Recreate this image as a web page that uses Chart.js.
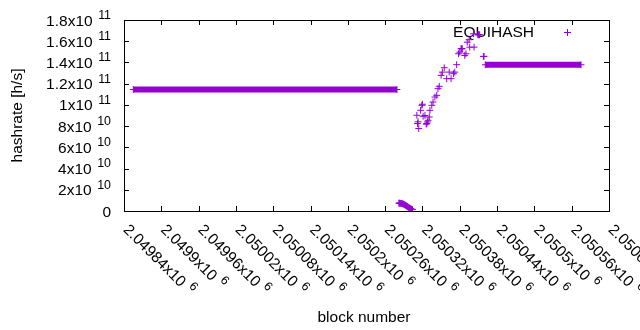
<!DOCTYPE html>
<html>
<head>
<meta charset="utf-8">
<script src="https://cdn.jsdelivr.net/npm/chart.js@4.4.0/dist/chart.umd.min.js"></script>
<style>
    html, body { margin: 0; padding: 0; background: #fff; }
    #wrap { width: 640px; height: 330px; }
</style>
</head>
<body>
<div id="wrap"><canvas id="hashrate-chart"></canvas></div>
<script>
// Tick positions and their labels ("^" marks the exponent)
const xTicks = [2049840, 2049900, 2049960, 2050020, 2050080, 2050140, 2050200,
    2050260, 2050320, 2050380, 2050440, 2050500, 2050560, 2050620];
const xTickLabels = ['2.04984x10^6', '2.0499x10^6', '2.04996x10^6', '2.05002x10^6',
    '2.05008x10^6', '2.05014x10^6', '2.0502x10^6', '2.05026x10^6', '2.05032x10^6',
    '2.05038x10^6', '2.05044x10^6', '2.0505x10^6', '2.05056x10^6', '2.05062x10^6'];
const yTicks = [0, 2e10, 4e10, 6e10, 8e10, 1e11, 1.2e11, 1.4e11, 1.6e11, 1.8e11];
const yTickLabels = ['0', '2x10^10', '4x10^10', '6x10^10', '8x10^10', '1x10^11',
    '1.2x10^11', '1.4x10^11', '1.6x10^11', '1.8x10^11'];

// Constant-hashrate runs (one point per block, first/last block of each run)
const runStartBlocks = [2049855, 2050421];
const runEndBlocks = [2050279, 2050575];
const runHashrates = [1.145e11, 1.378e11];

// Remaining blocks
const blocks = [
    2050282, 2050283, 2050284, 2050285, 2050286, 2050287, 2050288, 2050289, 2050290,
    2050291, 2050292, 2050293, 2050294, 2050295, 2050296, 2050297, 2050298, 2050299,
    2050300, 2050301, 2050302, 2050303, 2050304,
    2050311, 2050312, 2050313, 2050314, 2050317, 2050319, 2050320, 2050321, 2050324,
    2050326, 2050327, 2050328, 2050329, 2050331, 2050332, 2050335, 2050337, 2050340,
    2050343, 2050345, 2050347, 2050350, 2050352, 2050355, 2050359, 2050363, 2050366,
    2050370, 2050372, 2050375, 2050378, 2050380, 2050382, 2050383, 2050384, 2050388,
    2050390, 2050392, 2050395, 2050396, 2050402, 2050403, 2050409, 2050410, 2050411,
    2050412, 2050418, 2050419
];
const hashrates = [
    7.4e9, 7.4e9, 7.3e9, 7.2e9, 7.1e9, 7.0e9, 6.8e9, 6.6e9, 6.3e9,
    6.0e9, 5.7e9, 5.3e9, 4.9e9, 4.5e9, 4.1e9, 3.7e9, 3.3e9, 2.9e9,
    2.5e9, 2.1e9, 1.8e9, 1.5e9, 1.3e9,
    9.02e10, 8.24e10, 8.4e10, 7.77e10, 9.49e10, 9.96e10, 1.006e11, 8.93e10, 9.0e10,
    8.18e10, 8.24e10, 8.39e10, 8.55e10, 8.86e10, 9.49e10, 9.96e10, 1.027e11, 1.074e11,
    1.09e11, 1.153e11, 1.175e11, 1.278e11, 1.309e11, 1.35e11, 1.247e11, 1.309e11, 1.247e11,
    1.294e11, 1.309e11, 1.379e11, 1.482e11, 1.497e11, 1.53e11, 1.53e11, 1.529e11, 1.466e11,
    1.482e11, 1.591e11, 1.614e11, 1.544e11, 1.67e11, 1.544e11, 1.661e11, 1.661e11, 1.661e11,
    1.661e11, 1.457e11, 1.457e11
];

const PURPLE = '#9400d3';
const FONT = '"Liberation Sans", Arial, sans-serif';
const MAIN_SIZE = 15.5;
const SUP_SIZE = 12.4;
const SUP_GAP = 5.5;
const SUP_RAISE = 6.7;
const TICK_LEN = 5;

/**
 * Draw a label like "1.8x10^11" with a raised exponent.
 * y is the vertical middle of the main digits.
 */
function drawSciLabel(ctx, label, x, y, align) {
    const parts = label.split('^');
    ctx.font = MAIN_SIZE + 'px ' + FONT;
    const mainWidth = ctx.measureText(parts[0]).width;
    let supWidth = 0;
    if (parts[1]) {
        ctx.font = SUP_SIZE + 'px ' + FONT;
        supWidth = SUP_GAP + ctx.measureText(parts[1]).width;
    }
    const x0 = align === 'right' ? x - mainWidth - supWidth : x;
    const baseline = y + MAIN_SIZE * 0.358;
    ctx.textAlign = 'left';
    ctx.textBaseline = 'alphabetic';
    ctx.font = MAIN_SIZE + 'px ' + FONT;
    ctx.fillText(parts[0], x0, baseline);
    if (parts[1]) {
        ctx.font = SUP_SIZE + 'px ' + FONT;
        ctx.fillText(parts[1], x0 + mainWidth + SUP_GAP, baseline - SUP_RAISE);
    }
}

// gnuplot-like frame: border, inward ticks on all sides, rotated labels, key
const gnuplotFrame = {
    id: 'gnuplotFrame',
    beforeDatasetsDraw(chart) {
        const ctx = chart.ctx;
        ctx.save();
        ctx.fillStyle = '#000';
        ctx.font = MAIN_SIZE + 'px ' + FONT;
        ctx.textAlign = 'right';
        ctx.textBaseline = 'alphabetic';
        ctx.fillText('EQUIHASH', 534, 37.2);
        ctx.restore();
    },
    afterDraw(chart) {
        const ctx = chart.ctx;
        const area = chart.chartArea;
        const xScale = chart.scales.x;
        const yScale = chart.scales.y;
        ctx.save();
        ctx.strokeStyle = '#000';
        ctx.fillStyle = '#000';
        ctx.lineWidth = 1;

        ctx.strokeRect(area.left + 0.5, area.top + 0.5, area.width, area.height);

        ctx.beginPath();
        xTicks.forEach(v => {
            const px = Math.round(xScale.getPixelForValue(v)) + 0.5;
            ctx.moveTo(px, area.bottom);
            ctx.lineTo(px, area.bottom - TICK_LEN);
            ctx.moveTo(px, area.top);
            ctx.lineTo(px, area.top + TICK_LEN);
        });
        yTicks.forEach(v => {
            const py = Math.round(yScale.getPixelForValue(v)) + 0.5;
            ctx.moveTo(area.left, py);
            ctx.lineTo(area.left + TICK_LEN, py);
            ctx.moveTo(area.right, py);
            ctx.lineTo(area.right - TICK_LEN, py);
        });
        ctx.stroke();

        yTicks.forEach((v, i) => {
            drawSciLabel(ctx, yTickLabels[i], 111, yScale.getPixelForValue(v), 'right');
        });

        xTicks.forEach((v, i) => {
            ctx.save();
            ctx.translate(xScale.getPixelForValue(v) + 2.5, area.bottom + 15.5);
            ctx.rotate(Math.PI / 4);
            drawSciLabel(ctx, xTickLabels[i], 0, 0, 'left');
            ctx.restore();
        });

        ctx.font = MAIN_SIZE + 'px ' + FONT;
        ctx.textAlign = 'center';
        ctx.textBaseline = 'alphabetic';
        ctx.fillText('block number', 364, 321.7);

        ctx.save();
        ctx.translate(21.5, 115.5);
        ctx.rotate(-Math.PI / 2);
        ctx.fillText('hashrate [h/s]', 0, 0);
        ctx.restore();

        // key sample
        ctx.strokeStyle = PURPLE;
        ctx.beginPath();
        ctx.moveTo(564, 32.5);
        ctx.lineTo(571, 32.5);
        ctx.moveTo(567.5, 29);
        ctx.lineTo(567.5, 36);
        ctx.stroke();
        ctx.restore();
    }
};

function buildRunDataset(i) {
    return {
        label: 'EQUIHASH run ' + (i + 1),
        data: [
            { x: runStartBlocks[i], y: runHashrates[i] },
            { x: runEndBlocks[i], y: runHashrates[i] }
        ],
        showLine: true,
        borderColor: PURPLE,
        backgroundColor: PURPLE,
        borderWidth: 6,
        borderCapStyle: 'butt',
        pointStyle: 'cross',
        pointRadius: 3.4,
        pointBorderWidth: 1,
        pointBorderColor: PURPLE
    };
}

const ctx = document.getElementById('hashrate-chart');
new Chart(ctx, {
    type: 'scatter',
    data: {
        datasets: [
            buildRunDataset(0),
            buildRunDataset(1),
            {
                label: 'EQUIHASH',
                data: blocks.map((b, i) => ({ x: b, y: hashrates[i] })),
                showLine: false,
                pointStyle: 'cross',
                pointRadius: 3.4,
                pointBorderWidth: 1,
                pointBorderColor: PURPLE,
                backgroundColor: PURPLE
            }
        ]
    },
    options: {
        responsive: true,
        maintainAspectRatio: false,
        animation: false,
        devicePixelRatio: 1,
        layout: {
            padding: { left: 124, right: 31, top: 20, bottom: 119 }
        },
        scales: {
            x: { type: 'linear', display: false, min: 2049840, max: 2050620 },
            y: { type: 'linear', display: false, min: 0, max: 1.8e11 }
        },
        plugins: {
            legend: { display: false },
            tooltip: { enabled: false }
        }
    },
    plugins: [gnuplotFrame]
});
</script>
</body>
</html>
